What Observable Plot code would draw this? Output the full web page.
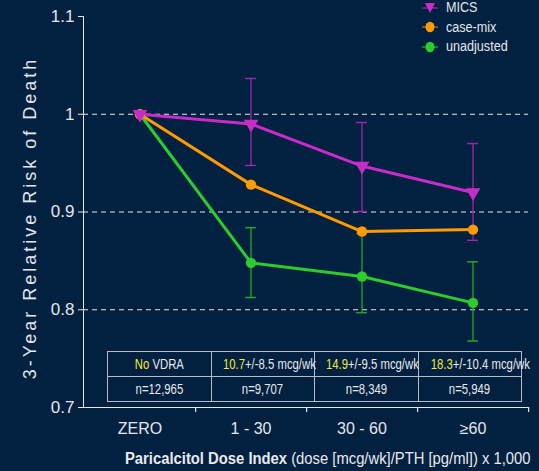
<!DOCTYPE html>
<html>
<head>
<meta charset="utf-8">
<script src="https://cdn.jsdelivr.net/npm/d3@7"></script>
<script src="https://cdn.jsdelivr.net/npm/@observablehq/plot@0.6"></script>
<style>
  html, body { margin: 0; padding: 0; background: #02203f; }
  #wrap { position: relative; width: 539px; height: 471px; overflow: hidden; background: #02203f;
    font-family: "Liberation Sans Narrow", "Arial Narrow", "Liberation Sans", Arial, sans-serif; color: #e4e7ee; }
  #chart { position: absolute; left: 0; top: 0; }
  #legend { position: absolute; left: 421px; top: -2px; font-size: 14px; line-height: 19.5px; }
  #legend .item { display: flex; align-items: center; height: 19.5px; }
  #legend svg { margin-right: 7px; }
  #legend span { display: inline-block; transform: scaleX(0.9); transform-origin: left center; }
  #tbl { position: absolute; left: 107px; top: 351px; border-collapse: collapse; width: 415px; height: 50px;
    font-size: 14px; color: #e8eaf0; table-layout: fixed; }
  #tbl td { border: 1.5px solid #b8bcc8; text-align: center; padding: 0; height: 24px; white-space: nowrap; overflow: visible; }
  #tbl td + td { border-left-color: #ffffff; }
  #tbl td .c { display: inline-block; transform: scaleX(0.81); }
  #tbl .hl { color: #f2ea3c; }
  #xtitle { position: absolute; left: 125px; top: 450px; font-size: 16px; white-space: nowrap; color: #e8eaf0;
    transform: scaleX(0.925); transform-origin: left center; }
</style>
</head>
<body>
<div id="wrap">
  <div id="chart"></div>
  <div id="legend"></div>
  <table id="tbl"></table>
  <div id="xtitle"><b>Paricalcitol Dose Index</b> (dose [mcg/wk]/PTH [pg/ml]) x 1,000</div>
</div>
<script>
// ---- data ----
const categories = ["ZERO", "1 - 30", "30 - 60", "\u226560"];
const seriesNames = ["unadjusted", "case-mix", "MICS"];
const seriesColors = ["#2ccc2c", "#ff9a00", "#c82cc8"];
const errColors = ["#24a824", "#ff9a00", "#9c2aa8"];
const unadjusted = [1.0, 0.848, 0.834, 0.807];
const unadjustedLo = [null, 0.8125, 0.797, 0.768];
const unadjustedHi = [null, 0.884, 0.878, 0.849];
const caseMix = [1.0, 0.928, 0.880, 0.882];
const mics = [1.0, 0.990, 0.947, 0.920];
const micsLo = [null, 0.9476, 0.9005, 0.871];
const micsHi = [null, 1.0366, 0.9916, 0.970];
const yTicks = [0.7, 0.8, 0.9, 1.0, 1.1];
const yTickLabels = ["0.7", "0.8", "0.9", "1", "1.1"];
const gridValues = [0.8, 0.9, 1.0];
const yLabel = "3-Year Relative Risk of Death";
const tableRow1 = [["No", " VDRA"], ["10.7", "+/-8.5 mcg/wk"], ["14.9", "+/-9.5 mcg/wk"], ["18.3", "+/-10.4 mcg/wk"]];
const tableRow2 = ["n=12,965", "n=9,707", "n=8,349", "n=5,949"];
const legendOrder = ["MICS", "case-mix", "unadjusted"];

// ---- build tables ----
const seriesValues = {"unadjusted": unadjusted, "case-mix": caseMix, "MICS": mics};
const points = [];
for (const s of seriesNames) seriesValues[s].forEach((v, i) => points.push({series: s, cat: categories[i], value: v}));
const errs = [];
categories.forEach((c, i) => {
  if (unadjustedLo[i] != null) errs.push({series: "unadjusted", cat: c, lo: unadjustedLo[i], hi: unadjustedHi[i]});
  if (micsLo[i] != null) errs.push({series: "MICS", cat: c, lo: micsLo[i], hi: micsHi[i]});
});
const errColor = s => errColors[seriesNames.indexOf(s)];
const lineColor = s => seriesColors[seriesNames.indexOf(s)];

const textColor = "#e4e7ee";
const W = 539, H = 471, mL = 83, mR = 11, mT = 16, mB = 64;
const bw = (W - mL - mR) / categories.length;
const capInset = (bw - 11) / 2;

const chart = Plot.plot({
  width: W, height: H,
  marginLeft: mL, marginRight: mR, marginTop: mT, marginBottom: mB,
  style: {background: "transparent", color: textColor, fontSize: "17px",
    fontFamily: '"Liberation Sans Narrow", "Arial Narrow", "Liberation Sans", Arial, sans-serif'},
  x: {type: "band", domain: categories, padding: 0, axis: null},
  y: {domain: [0.7, 1.1], ticks: yTicks, tickFormat: d => yTickLabels[yTicks.findIndex(t => Math.abs(t - d) < 1e-9)],
      line: true, tickSize: 5, tickPadding: 4, label: null},
  color: {domain: seriesNames, range: seriesColors},
  marks: [
    Plot.ruleY(gridValues, {stroke: "#ffffff", strokeDasharray: "5,4", strokeWidth: 1.1, strokeOpacity: 0.9}),
    Plot.ruleY([0.7], {stroke: textColor, strokeWidth: 1.2}),
    Plot.ruleX(categories, {x: d => d, y1: 0.7, y2: 0.6948, dx: bw / 2, stroke: textColor, strokeWidth: 1.2}),
    Plot.text(categories, {x: d => d, y: 0.7, dy: 21, text: d => d, fill: textColor, fontSize: 16}),
    Plot.text([yLabel], {frameAnchor: "left", dx: -53, dy: 6, rotate: -90, textAnchor: "middle", text: d => d,
      fill: textColor, fontSize: 18, fontFamily: '"Liberation Sans", Arial, sans-serif'}),
    Plot.line(points, {x: "cat", y: "value", z: "series", stroke: "series", strokeWidth: 3}),
    Plot.ruleX(errs, {x: "cat", y1: "lo", y2: "hi", stroke: d => errColor(d.series), strokeWidth: 1.3}),
    Plot.tickY(errs, {x: "cat", y: "lo", stroke: d => errColor(d.series), strokeWidth: 1.5, insetLeft: capInset, insetRight: capInset}),
    Plot.tickY(errs, {x: "cat", y: "hi", stroke: d => errColor(d.series), strokeWidth: 1.5, insetLeft: capInset, insetRight: capInset}),
    Plot.dot(points.filter(d => d.series !== "MICS"), {x: "cat", y: "value", fill: "series", r: 5.2}),
    Plot.dot(points.filter(d => d.series === "MICS"), {x: "cat", y: "value", fill: "series", symbol: "triangle", rotate: 180, r: 5.5})
  ]
});
// letter spacing for the rotated y-axis title
for (const t of chart.querySelectorAll("text")) {
  if (t.textContent === yLabel) t.setAttribute("letter-spacing", "3px");
}
document.getElementById("chart").appendChild(chart);

// ---- legend ----
const leg = document.getElementById("legend");
for (const s of legendOrder) {
  const c = lineColor(s);
  const item = document.createElement("div");
  item.className = "item";
  const marker = s === "MICS"
    ? `<polygon points="4,3 14,3 9,13" fill="${c}"/>`
    : `<ellipse cx="9" cy="8" rx="4.5" ry="5.3" fill="${c}"/>`;
  item.innerHTML = `<svg width="18" height="16"><line x1="1" y1="8" x2="17" y2="8" stroke="${s === "case-mix" ? "#b07020" : errColor(s)}" stroke-width="1.3"/>${marker}</svg><span>${s}</span>`;
  leg.appendChild(item);
}

// ---- table ----
const tbl = document.getElementById("tbl");
const tr1 = document.createElement("tr");
for (const [hl, rest] of tableRow1) {
  const td = document.createElement("td");
  td.innerHTML = `<span class="c"><span class="hl">${hl}</span>${rest}</span>`;
  tr1.appendChild(td);
}
const tr2 = document.createElement("tr");
for (const t of tableRow2) {
  const td = document.createElement("td");
  td.innerHTML = `<span class="c">${t}</span>`;
  tr2.appendChild(td);
}
tbl.appendChild(tr1);
tbl.appendChild(tr2);
</script>
</body>
</html>
